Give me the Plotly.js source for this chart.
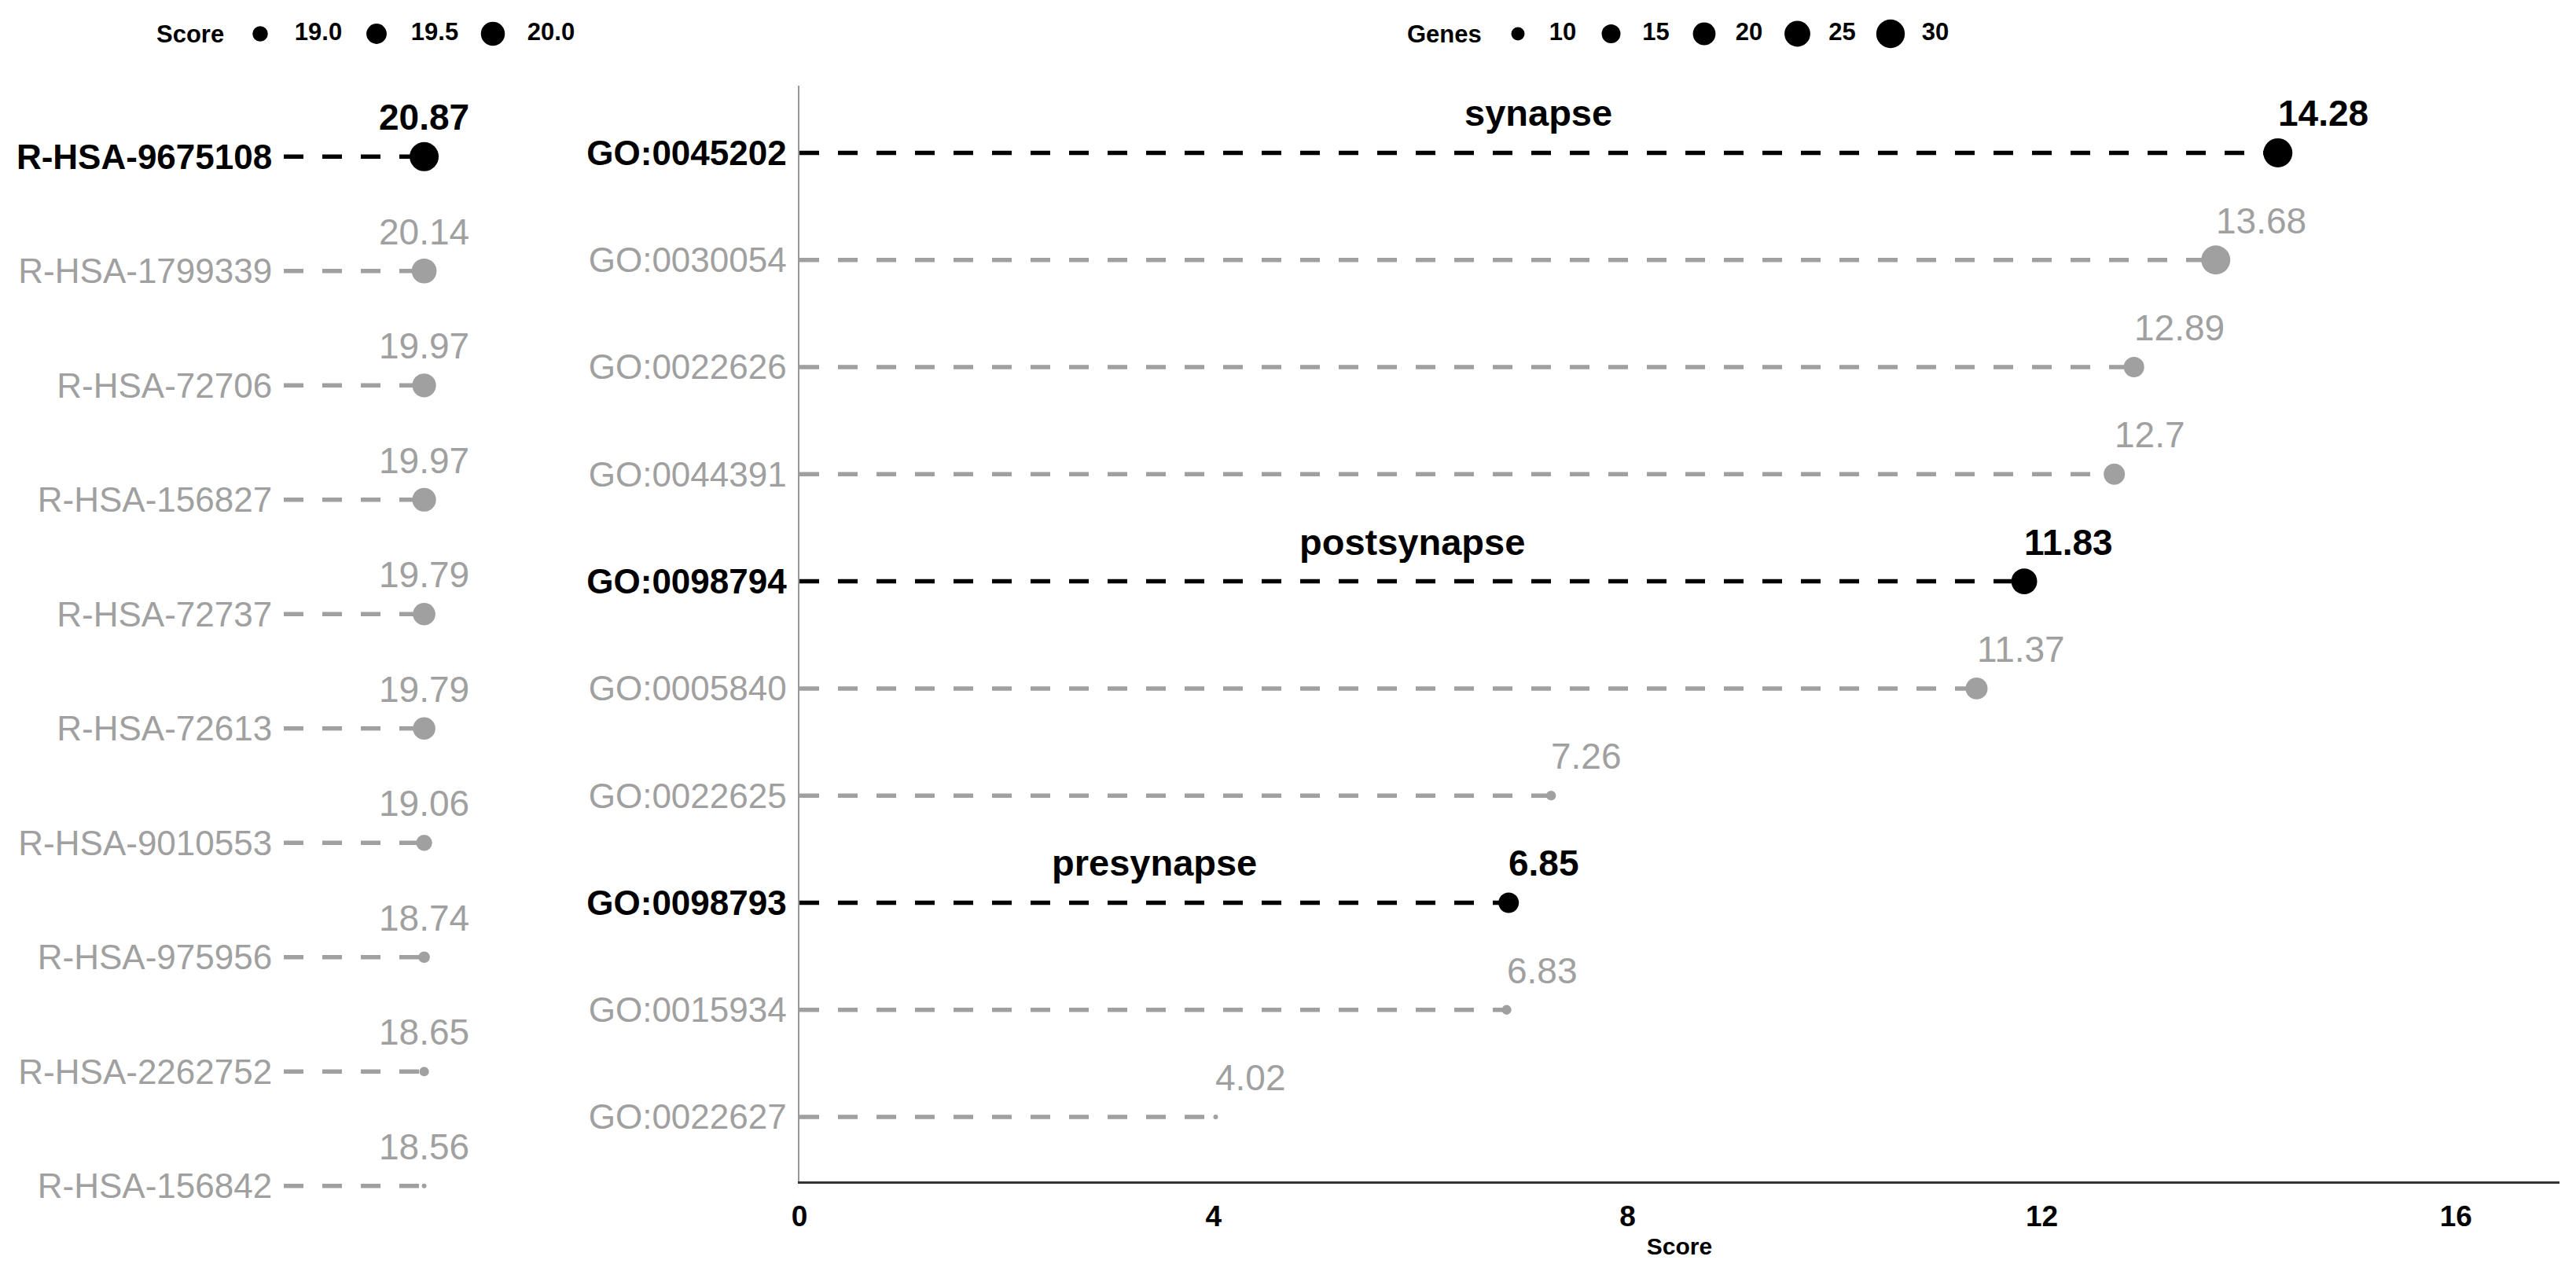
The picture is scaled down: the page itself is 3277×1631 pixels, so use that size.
<!DOCTYPE html>
<html>
<head>
<meta charset="utf-8">
<script src="https://cdn.plot.ly/plotly-3.0.1.min.js"></script>
<style>html,body{margin:0;padding:0;background:#ffffff;}</style>
</head>
<body>
<div id="chart" style="width:3277px;height:1631px;"></div>
<script>
// ---------------- DATA ----------------
const reactomeTerms = ['R-HSA-9675108','R-HSA-1799339','R-HSA-72706','R-HSA-156827','R-HSA-72737',
                       'R-HSA-72613','R-HSA-9010553','R-HSA-975956','R-HSA-2262752','R-HSA-156842'];
const reactomeScores = [20.87, 20.14, 19.97, 19.97, 19.79, 19.79, 19.06, 18.74, 18.65, 18.56];
const reactomeHighlight = [true, false, false, false, false, false, false, false, false, false];

const goTerms = ['GO:0045202','GO:0030054','GO:0022626','GO:0044391','GO:0098794',
                 'GO:0005840','GO:0022625','GO:0098793','GO:0015934','GO:0022627'];
const goScores = [14.28, 13.68, 12.89, 12.7, 11.83, 11.37, 7.26, 6.85, 6.83, 4.02];
const goGenes  = [31, 31, 17, 18, 25, 19, 8, 17, 8, 7];
const goHighlight = [true, false, false, false, true, false, false, true, false, false];
const goNames = ['synapse', '', '', '', 'postsynapse', '', '', 'presynapse', '', ''];

const xTickVals = [0, 4, 8, 12, 16];
const scoreLegendBreaks = [19.0, 19.5, 20.0];
const genesLegendBreaks = [10, 15, 20, 25, 30];

// ---------------- STYLE ----------------
const W = 3277, H = 1631;
const BLACK = '#000000', GRAY = '#A0A0A0';
const FONT = '"Liberation Sans", Arial, sans-serif';
const DASH = '25px,24px';
const LINE_W = 5.5;
const DMIN = 6, DSPAN = 31;

function areaSize(v, lo, hi) {
  return DMIN + DSPAN * Math.sqrt(Math.max(0, (v - lo) / (hi - lo)));
}
const gLo = Math.min(...goGenes), gHi = Math.max(...goGenes);
const sLo = Math.min(...reactomeScores), sHi = Math.max(...reactomeScores);
const geneSize = g => areaSize(g, gLo, gHi);
const scoreSize = s => areaSize(s, sLo, sHi);

function styledLabel(t, hl) {
  return hl ? '<b><span style="color:' + BLACK + '">' + t + '</span></b>' : t;
}

const traces = [];
const annotations = [];

// ---------- Left panel (Reactome) ----------
const reactomeX = reactomeScores.map(() => 1);   // all dots share one column
reactomeTerms.forEach((t, i) => {
  traces.push({
    x: [0, reactomeX[i]], y: [i, i], xaxis: 'x2', yaxis: 'y2',
    mode: 'lines', line: {color: reactomeHighlight[i] ? BLACK : GRAY, width: LINE_W, dash: DASH},
    showlegend: false, hoverinfo: 'skip'
  });
});
traces.push({
  x: reactomeX, y: reactomeTerms.map((_, i) => i), xaxis: 'x2', yaxis: 'y2',
  mode: 'markers',
  marker: {size: reactomeScores.map(scoreSize), color: reactomeHighlight.map(h => h ? BLACK : GRAY), opacity: 1, line: {width: 0}},
  showlegend: false, hoverinfo: 'skip'
});
reactomeScores.forEach((s, i) => {
  annotations.push({
    xref: 'x2', yref: 'y2', x: reactomeX[i], y: i, text: reactomeHighlight[i] ? '<b>' + s + '</b>' : String(s),
    showarrow: false, xanchor: 'center', yanchor: 'bottom', yshift: 22,
    font: {family: FONT, size: 46, color: reactomeHighlight[i] ? BLACK : GRAY}
  });
});

// ---------- Right panel (GO) ----------
goTerms.forEach((t, i) => {
  traces.push({
    x: [0, goScores[i]], y: [i, i], xaxis: 'x', yaxis: 'y',
    mode: 'lines', line: {color: goHighlight[i] ? BLACK : GRAY, width: LINE_W, dash: DASH},
    showlegend: false, hoverinfo: 'skip'
  });
});
traces.push({
  x: goScores, y: goTerms.map((_, i) => i), xaxis: 'x', yaxis: 'y',
  mode: 'markers',
  marker: {size: goGenes.map(geneSize), color: goHighlight.map(h => h ? BLACK : GRAY), opacity: 1, line: {width: 0}},
  showlegend: false, hoverinfo: 'skip'
});
goScores.forEach((s, i) => {
  annotations.push({
    xref: 'x', yref: 'y', x: s, y: i, text: goHighlight[i] ? '<b>' + s + '</b>' : String(s),
    showarrow: false, xanchor: 'left', yanchor: 'bottom', yshift: 22, xshift: -2,
    font: {family: FONT, size: 46, color: goHighlight[i] ? BLACK : GRAY}
  });
  if (goNames[i]) {
    annotations.push({
      xref: 'x', yref: 'y', x: s / 2, y: i, text: '<b>' + goNames[i] + '</b>',
      showarrow: false, xanchor: 'center', yanchor: 'bottom', yshift: 22,
      font: {family: FONT, size: 47, color: BLACK}
    });
  }
});

// ---------- Size legends (drawn on an overlay axis measured in pixels) ----------
const LEG_Y = 43;
const scoreLeg = {title: 'Score', titleX: 197, firstX: 331, step: 148, labelDx: 74};
const genesLeg = {title: 'Genes', titleX: 1788, firstX: 1931, step: 118.5, labelDx: 57};
function addLegend(cfg, breaks, sizeFn, fmt) {
  const xs = breaks.map((_, i) => cfg.firstX + i * cfg.step);
  traces.push({
    x: xs, y: breaks.map(() => LEG_Y), xaxis: 'x3', yaxis: 'y3', mode: 'markers',
    marker: {size: breaks.map(sizeFn), color: BLACK, opacity: 1, line: {width: 0}},
    showlegend: false, hoverinfo: 'skip'
  });
  traces.push({
    x: xs.map(x => x + cfg.labelDx), y: breaks.map(() => LEG_Y), xaxis: 'x3', yaxis: 'y3', mode: 'text',
    text: breaks.map(b => '<b>' + fmt(b) + '</b>'), textposition: 'middle center',
    textfont: {family: FONT, size: 31, color: BLACK}, showlegend: false, hoverinfo: 'skip'
  });
  annotations.push({
    xref: 'x3', yref: 'y3', x: cfg.titleX, y: LEG_Y, text: '<b>' + cfg.title + '</b>',
    showarrow: false, xanchor: 'left', yanchor: 'middle',
    font: {family: FONT, size: 31, color: BLACK}
  });
}
addLegend(scoreLeg, scoreLegendBreaks, scoreSize, b => b.toFixed(1));
addLegend(genesLeg, genesLegendBreaks, geneSize, b => String(b));

// ---------------- LAYOUT ----------------
const transparent = 'rgba(0,0,0,0)';
const layout = {
  width: W, height: H,
  margin: {l: 0, r: 0, t: 0, b: 0},
  paper_bgcolor: '#ffffff', plot_bgcolor: '#ffffff',
  font: {family: FONT},
  hovermode: false,
  showlegend: false,
  xaxis: {
    domain: [1017 / W, 3256 / W], range: [0, 17], anchor: 'y',
    tickvals: xTickVals, ticktext: xTickVals.map(v => '<b>' + v + '</b>'),
    ticks: 'outside', ticklen: 10, tickcolor: transparent,
    tickfont: {family: FONT, size: 37, color: BLACK},
    showline: true, linecolor: '#333333', linewidth: 3,
    showgrid: false, zeroline: false, fixedrange: true,
    title: {text: '<b>Score</b>', font: {family: FONT, size: 30, color: BLACK}, standoff: 8}
  },
  yaxis: {
    domain: [1 - 1502.8 / H, 1 - 108.6 / H], range: [9.6, -0.63], anchor: 'x',
    tickvals: goTerms.map((_, i) => i), ticktext: goTerms.map((t, i) => styledLabel(t, goHighlight[i])),
    ticks: 'outside', ticklen: 5, tickcolor: transparent,
    tickfont: {family: FONT, size: 44, color: GRAY},
    showline: true, linecolor: '#999999', linewidth: 2.5,
    showgrid: false, zeroline: false, fixedrange: true
  },
  xaxis2: {
    domain: [361 / W, 611 / W], range: [0, 1.4], anchor: 'y2',
    visible: false, fixedrange: true
  },
  yaxis2: {
    domain: [1 - 1596 / H, 1 - 112 / H], range: [9.6, -0.6], anchor: 'x2',
    tickvals: reactomeTerms.map((_, i) => i), ticktext: reactomeTerms.map((t, i) => styledLabel(t, reactomeHighlight[i])),
    ticks: 'outside', ticklen: 5, tickcolor: transparent,
    tickfont: {family: FONT, size: 44, color: GRAY},
    showline: false, showgrid: false, zeroline: false, fixedrange: true
  },
  xaxis3: {domain: [0, 1], range: [0, W], anchor: 'y3', visible: false, fixedrange: true},
  yaxis3: {domain: [1 - 90 / H, 1], range: [90, 0], anchor: 'x3', visible: false, fixedrange: true},
  annotations: annotations
};

Plotly.newPlot('chart', traces, layout, {staticPlot: true, displayModeBar: false});
</script>
</body>
</html>
